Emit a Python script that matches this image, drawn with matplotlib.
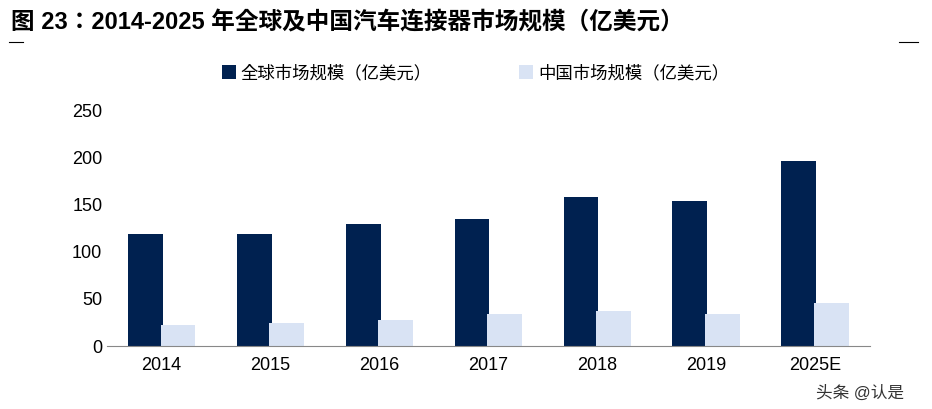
import matplotlib
matplotlib.use("Agg")
import matplotlib.pyplot as plt
from matplotlib import font_manager as fm
import numpy as np

cjk = [f.name for f in fm.fontManager.ttflist if 'CJK' in f.name]
cjk_names = sorted(set(cjk), key=lambda n: ('SC' not in n, n))
plt.rcParams['font.family'] = ['Liberation Sans'] + cjk_names + ['DejaVu Sans']

years = ["2014", "2015", "2016", "2017", "2018", "2019", "2025E"]
global_vals = [119, 119, 130, 135, 158, 154, 197]
china_vals = [22, 24, 28, 34, 37, 34, 46]
yticks = [0, 50, 100, 150, 200, 250]

fig = plt.figure(figsize=(9.32, 4.09), dpi=100)
ax = fig.add_axes([0.115, 0.154, 0.818, 0.575])
x = np.arange(len(years))
w = 0.32
ax.bar(x - 0.15, global_vals, w, color='#002150', label='全球市场规模（亿美元）')
ax.bar(x + 0.15, china_vals, w, color='#d9e3f4', label='中国市场规模（亿美元）')
ax.set_xlim(-0.5, len(years) - 0.5)
ax.set_ylim(0, 250)
ax.set_yticks(yticks)
ax.set_xticks(x)
ax.set_xticklabels(years)
ax.tick_params(axis='both', labelsize=13, length=0)
ax.tick_params(axis='x', pad=8)
for s in ['top', 'right', 'left']:
    ax.spines[s].set_visible(False)
ax.spines['bottom'].set_color('#888888')
fig.legend(*ax.get_legend_handles_labels(), loc='center', bbox_to_anchor=(0.51, 0.822),
           ncol=2, frameon=False, fontsize=12.5, handlelength=0.8, handleheight=0.9,
           columnspacing=5, handletextpad=0.3)

fig.text(0.012, 0.945, '图 23：2014-2025 年全球及中国汽车连接器市场规模（亿美元）',
         fontsize=17, fontweight='bold', va='center')
fig.add_artist(plt.Line2D([0.01, 0.025], [0.897, 0.897], color='black', lw=0.8))
fig.add_artist(plt.Line2D([0.965, 0.985], [0.897, 0.897], color='black', lw=0.8))
fig.text(0.875, 0.04, '头条 @认是', fontsize=12, color='#333333', va='center')
fig.savefig('out.png', dpi=100)
